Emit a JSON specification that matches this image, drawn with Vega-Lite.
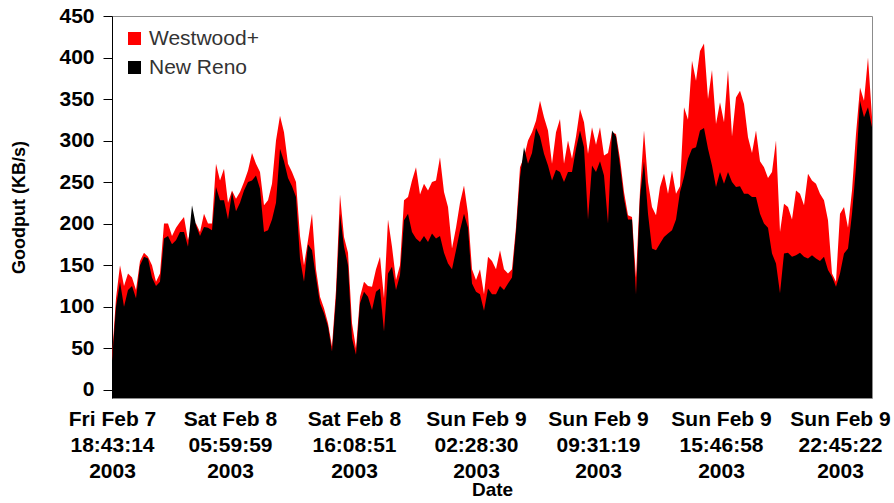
{
  "$schema": "https://vega.github.io/schema/vega-lite/v6.json",
  "width": 760,
  "height": 382,
  "autosize": {"type": "none"},
  "padding": {"left": 112, "top": 16, "right": 22, "bottom": 105},
  "background": "white",
  "config": {
    "view": {"stroke": "#8c8c8c", "strokeWidth": 1},
    "font": "Liberation Sans"
  },
  "data": {
    "values": [
      {"i": 0, "Westwood+": 40, "New Reno": 35},
      {"i": 1, "Westwood+": 110, "New Reno": 100},
      {"i": 2, "Westwood+": 150, "New Reno": 130},
      {"i": 3, "Westwood+": 125, "New Reno": 100},
      {"i": 4, "Westwood+": 140, "New Reno": 120},
      {"i": 5, "Westwood+": 135, "New Reno": 125},
      {"i": 6, "Westwood+": 120, "New Reno": 110},
      {"i": 7, "Westwood+": 155, "New Reno": 150},
      {"i": 8, "Westwood+": 165, "New Reno": 160},
      {"i": 9, "Westwood+": 160, "New Reno": 158},
      {"i": 10, "Westwood+": 150, "New Reno": 135},
      {"i": 11, "Westwood+": 130, "New Reno": 125},
      {"i": 12, "Westwood+": 140, "New Reno": 130},
      {"i": 13, "Westwood+": 200, "New Reno": 182},
      {"i": 14, "Westwood+": 200, "New Reno": 185},
      {"i": 15, "Westwood+": 185, "New Reno": 175},
      {"i": 16, "Westwood+": 195, "New Reno": 180},
      {"i": 17, "Westwood+": 202, "New Reno": 190},
      {"i": 18, "Westwood+": 208, "New Reno": 190},
      {"i": 19, "Westwood+": 180, "New Reno": 172},
      {"i": 20, "Westwood+": 200, "New Reno": 222},
      {"i": 21, "Westwood+": 200, "New Reno": 198},
      {"i": 22, "Westwood+": 190, "New Reno": 185},
      {"i": 23, "Westwood+": 212, "New Reno": 196},
      {"i": 24, "Westwood+": 200, "New Reno": 195},
      {"i": 25, "Westwood+": 200, "New Reno": 192},
      {"i": 26, "Westwood+": 272, "New Reno": 244},
      {"i": 27, "Westwood+": 252, "New Reno": 228},
      {"i": 28, "Westwood+": 266, "New Reno": 228},
      {"i": 29, "Westwood+": 225, "New Reno": 205},
      {"i": 30, "Westwood+": 240, "New Reno": 238},
      {"i": 31, "Westwood+": 230, "New Reno": 215},
      {"i": 32, "Westwood+": 238, "New Reno": 225},
      {"i": 33, "Westwood+": 250, "New Reno": 240},
      {"i": 34, "Westwood+": 264, "New Reno": 250},
      {"i": 35, "Westwood+": 285, "New Reno": 252},
      {"i": 36, "Westwood+": 272, "New Reno": 258},
      {"i": 37, "Westwood+": 262, "New Reno": 242},
      {"i": 38, "Westwood+": 222, "New Reno": 190},
      {"i": 39, "Westwood+": 228, "New Reno": 192},
      {"i": 40, "Westwood+": 248, "New Reno": 205},
      {"i": 41, "Westwood+": 300, "New Reno": 225},
      {"i": 42, "Westwood+": 330, "New Reno": 290},
      {"i": 43, "Westwood+": 310, "New Reno": 275},
      {"i": 44, "Westwood+": 272, "New Reno": 255},
      {"i": 45, "Westwood+": 262, "New Reno": 245},
      {"i": 46, "Westwood+": 250, "New Reno": 232},
      {"i": 47, "Westwood+": 185, "New Reno": 158},
      {"i": 48, "Westwood+": 150, "New Reno": 130},
      {"i": 49, "Westwood+": 180, "New Reno": 175},
      {"i": 50, "Westwood+": 212, "New Reno": 168},
      {"i": 51, "Westwood+": 145, "New Reno": 135},
      {"i": 52, "Westwood+": 112, "New Reno": 104},
      {"i": 53, "Westwood+": 98, "New Reno": 92},
      {"i": 54, "Westwood+": 80, "New Reno": 76},
      {"i": 55, "Westwood+": 52, "New Reno": 46},
      {"i": 56, "Westwood+": 120, "New Reno": 110},
      {"i": 57, "Westwood+": 235, "New Reno": 212},
      {"i": 58, "Westwood+": 184, "New Reno": 172},
      {"i": 59, "Westwood+": 165, "New Reno": 150},
      {"i": 60, "Westwood+": 80, "New Reno": 62},
      {"i": 61, "Westwood+": 50, "New Reno": 42},
      {"i": 62, "Westwood+": 112, "New Reno": 104},
      {"i": 63, "Westwood+": 130, "New Reno": 118},
      {"i": 64, "Westwood+": 125, "New Reno": 112},
      {"i": 65, "Westwood+": 124, "New Reno": 96},
      {"i": 66, "Westwood+": 145, "New Reno": 118},
      {"i": 67, "Westwood+": 160, "New Reno": 122},
      {"i": 68, "Westwood+": 110, "New Reno": 70},
      {"i": 69, "Westwood+": 205, "New Reno": 140},
      {"i": 70, "Westwood+": 172, "New Reno": 148},
      {"i": 71, "Westwood+": 132, "New Reno": 120},
      {"i": 72, "Westwood+": 150, "New Reno": 138},
      {"i": 73, "Westwood+": 228, "New Reno": 204},
      {"i": 74, "Westwood+": 232, "New Reno": 212},
      {"i": 75, "Westwood+": 252, "New Reno": 190},
      {"i": 76, "Westwood+": 268, "New Reno": 182},
      {"i": 77, "Westwood+": 235, "New Reno": 178},
      {"i": 78, "Westwood+": 248, "New Reno": 185},
      {"i": 79, "Westwood+": 240, "New Reno": 178},
      {"i": 80, "Westwood+": 250, "New Reno": 188},
      {"i": 81, "Westwood+": 252, "New Reno": 182},
      {"i": 82, "Westwood+": 280, "New Reno": 185},
      {"i": 83, "Westwood+": 238, "New Reno": 165},
      {"i": 84, "Westwood+": 220, "New Reno": 152},
      {"i": 85, "Westwood+": 170, "New Reno": 145},
      {"i": 86, "Westwood+": 195, "New Reno": 168},
      {"i": 87, "Westwood+": 225, "New Reno": 192},
      {"i": 88, "Westwood+": 246, "New Reno": 212},
      {"i": 89, "Westwood+": 212, "New Reno": 195},
      {"i": 90, "Westwood+": 145, "New Reno": 128},
      {"i": 91, "Westwood+": 132, "New Reno": 118},
      {"i": 92, "Westwood+": 145, "New Reno": 115},
      {"i": 93, "Westwood+": 115, "New Reno": 95},
      {"i": 94, "Westwood+": 160, "New Reno": 122},
      {"i": 95, "Westwood+": 155, "New Reno": 115},
      {"i": 96, "Westwood+": 145, "New Reno": 115},
      {"i": 97, "Westwood+": 168, "New Reno": 125},
      {"i": 98, "Westwood+": 145, "New Reno": 120},
      {"i": 99, "Westwood+": 140, "New Reno": 128},
      {"i": 100, "Westwood+": 145, "New Reno": 135},
      {"i": 101, "Westwood+": 196, "New Reno": 190},
      {"i": 102, "Westwood+": 268, "New Reno": 256},
      {"i": 103, "Westwood+": 280, "New Reno": 292},
      {"i": 104, "Westwood+": 300, "New Reno": 272},
      {"i": 105, "Westwood+": 310, "New Reno": 285},
      {"i": 106, "Westwood+": 324, "New Reno": 315},
      {"i": 107, "Westwood+": 348, "New Reno": 305},
      {"i": 108, "Westwood+": 328, "New Reno": 284},
      {"i": 109, "Westwood+": 312, "New Reno": 270},
      {"i": 110, "Westwood+": 272, "New Reno": 252},
      {"i": 111, "Westwood+": 310, "New Reno": 265},
      {"i": 112, "Westwood+": 326, "New Reno": 262},
      {"i": 113, "Westwood+": 272, "New Reno": 250},
      {"i": 114, "Westwood+": 300, "New Reno": 262},
      {"i": 115, "Westwood+": 278, "New Reno": 262},
      {"i": 116, "Westwood+": 305, "New Reno": 290},
      {"i": 117, "Westwood+": 338, "New Reno": 312},
      {"i": 118, "Westwood+": 322, "New Reno": 292},
      {"i": 119, "Westwood+": 284, "New Reno": 205},
      {"i": 120, "Westwood+": 316, "New Reno": 270},
      {"i": 121, "Westwood+": 295, "New Reno": 262},
      {"i": 122, "Westwood+": 316, "New Reno": 275},
      {"i": 123, "Westwood+": 282, "New Reno": 258},
      {"i": 124, "Westwood+": 285, "New Reno": 200},
      {"i": 125, "Westwood+": 310, "New Reno": 312},
      {"i": 126, "Westwood+": 308, "New Reno": 305},
      {"i": 127, "Westwood+": 278, "New Reno": 270},
      {"i": 128, "Westwood+": 238, "New Reno": 230},
      {"i": 129, "Westwood+": 210, "New Reno": 205},
      {"i": 130, "Westwood+": 208, "New Reno": 205},
      {"i": 131, "Westwood+": 135, "New Reno": 115},
      {"i": 132, "Westwood+": 240, "New Reno": 232},
      {"i": 133, "Westwood+": 312, "New Reno": 275},
      {"i": 134, "Westwood+": 250, "New Reno": 212},
      {"i": 135, "Westwood+": 220, "New Reno": 170},
      {"i": 136, "Westwood+": 210, "New Reno": 168},
      {"i": 137, "Westwood+": 244, "New Reno": 176},
      {"i": 138, "Westwood+": 260, "New Reno": 184},
      {"i": 139, "Westwood+": 236, "New Reno": 188},
      {"i": 140, "Westwood+": 264, "New Reno": 192},
      {"i": 141, "Westwood+": 236, "New Reno": 205},
      {"i": 142, "Westwood+": 245, "New Reno": 238},
      {"i": 143, "Westwood+": 340, "New Reno": 256},
      {"i": 144, "Westwood+": 325, "New Reno": 278},
      {"i": 145, "Westwood+": 396, "New Reno": 290},
      {"i": 146, "Westwood+": 372, "New Reno": 292},
      {"i": 147, "Westwood+": 408, "New Reno": 312},
      {"i": 148, "Westwood+": 417, "New Reno": 315},
      {"i": 149, "Westwood+": 350, "New Reno": 290},
      {"i": 150, "Westwood+": 385, "New Reno": 270},
      {"i": 151, "Westwood+": 320, "New Reno": 244},
      {"i": 152, "Westwood+": 346, "New Reno": 262},
      {"i": 153, "Westwood+": 322, "New Reno": 248},
      {"i": 154, "Westwood+": 385, "New Reno": 262},
      {"i": 155, "Westwood+": 305, "New Reno": 250},
      {"i": 156, "Westwood+": 352, "New Reno": 244},
      {"i": 157, "Westwood+": 360, "New Reno": 245},
      {"i": 158, "Westwood+": 344, "New Reno": 236},
      {"i": 159, "Westwood+": 304, "New Reno": 236},
      {"i": 160, "Westwood+": 285, "New Reno": 232},
      {"i": 161, "Westwood+": 312, "New Reno": 232},
      {"i": 162, "Westwood+": 275, "New Reno": 212},
      {"i": 163, "Westwood+": 268, "New Reno": 200},
      {"i": 164, "Westwood+": 255, "New Reno": 195},
      {"i": 165, "Westwood+": 262, "New Reno": 164},
      {"i": 166, "Westwood+": 300, "New Reno": 152},
      {"i": 167, "Westwood+": 190, "New Reno": 116},
      {"i": 168, "Westwood+": 224, "New Reno": 164},
      {"i": 169, "Westwood+": 220, "New Reno": 165},
      {"i": 170, "Westwood+": 205, "New Reno": 160},
      {"i": 171, "Westwood+": 240, "New Reno": 162},
      {"i": 172, "Westwood+": 236, "New Reno": 165},
      {"i": 173, "Westwood+": 222, "New Reno": 160},
      {"i": 174, "Westwood+": 260, "New Reno": 158},
      {"i": 175, "Westwood+": 252, "New Reno": 162},
      {"i": 176, "Westwood+": 248, "New Reno": 158},
      {"i": 177, "Westwood+": 236, "New Reno": 155},
      {"i": 178, "Westwood+": 228, "New Reno": 160},
      {"i": 179, "Westwood+": 204, "New Reno": 144},
      {"i": 180, "Westwood+": 140, "New Reno": 136},
      {"i": 181, "Westwood+": 130, "New Reno": 124},
      {"i": 182, "Westwood+": 212, "New Reno": 140},
      {"i": 183, "Westwood+": 220, "New Reno": 164},
      {"i": 184, "Westwood+": 195, "New Reno": 170},
      {"i": 185, "Westwood+": 240, "New Reno": 212},
      {"i": 186, "Westwood+": 308, "New Reno": 268},
      {"i": 187, "Westwood+": 364, "New Reno": 348},
      {"i": 188, "Westwood+": 348, "New Reno": 328},
      {"i": 189, "Westwood+": 400, "New Reno": 340},
      {"i": 190, "Westwood+": 328, "New Reno": 316}
    ]
  },
  "transform": [
    {"fold": ["Westwood+", "New Reno"], "as": ["series", "goodput"]}
  ],
  "encoding": {
    "x": {
      "field": "i",
      "type": "quantitative",
      "scale": {"domain": [0, 190], "nice": false, "zero": false},
      "axis": {
        "values": [0, 29.5, 60.5, 91, 121.5, 152.25, 182],
        "labelExpr": "split(['Fri Feb 7|18:43:14|2003', 'Sat Feb 8|05:59:59|2003', 'Sat Feb 8|16:08:51|2003', 'Sun Feb 9|02:28:30|2003', 'Sun Feb 9|09:31:19|2003', 'Sun Feb 9|15:46:58|2003', 'Sun Feb 9|22:45:22|2003'][round(datum.value / 30.33)], '|')",
        "labelFont": "Liberation Sans",
        "labelFontWeight": "bold",
        "labelFontSize": 21,
        "labelLineHeight": 26,
        "labelColor": "black",
        "labelPadding": 10,
        "labelFlush": false,
        "labelOverlap": false,
        "labelBound": false,
        "ticks": false,
        "domain": false,
        "grid": false,
        "title": "Date",
        "titleFont": "Liberation Sans",
        "titleFontWeight": "bold",
        "titleFontSize": 19,
        "titleColor": "black",
        "titlePadding": -1
      }
    },
    "y": {
      "field": "goodput",
      "type": "quantitative",
      "scale": {"domain": [-10, 450], "nice": false, "zero": false},
      "axis": {
        "values": [0, 50, 100, 150, 200, 250, 300, 350, 400, 450],
        "labelFont": "Liberation Sans",
        "labelFontWeight": "bold",
        "labelFontSize": 21,
        "labelColor": "black",
        "labelPadding": 9,
        "tickSize": 9,
        "tickColor": "black",
        "domainColor": "black",
        "grid": false,
        "title": "Goodput (KB/s)",
        "titleFont": "Liberation Sans",
        "titleFontWeight": "bold",
        "titleFontSize": 18,
        "titleColor": "black",
        "titlePadding": 30
      }
    },
    "y2": {"datum": -10},
    "color": {
      "field": "series",
      "type": "nominal",
      "scale": {"domain": ["Westwood+", "New Reno"], "range": ["#ff0000", "#000000"]},
      "legend": {
        "title": null,
        "orient": "none",
        "legendX": 12,
        "legendY": 12,
        "symbolType": "square",
        "symbolSize": 169,
        "symbolStrokeWidth": 0,
        "symbolOpacity": 1,
        "labelFont": "Liberation Sans",
        "labelFontSize": 21,
        "labelColor": "#333333",
        "labelOffset": 4,
        "rowPadding": 7,
        "padding": 0
      }
    }
  },
  "layer": [
    {
      "transform": [{"filter": "datum.series === 'Westwood+'"}],
      "mark": {"type": "area", "opacity": 1, "interpolate": "linear"}
    },
    {
      "transform": [{"filter": "datum.series === 'New Reno'"}],
      "mark": {"type": "area", "opacity": 1, "interpolate": "linear"}
    }
  ]
}
